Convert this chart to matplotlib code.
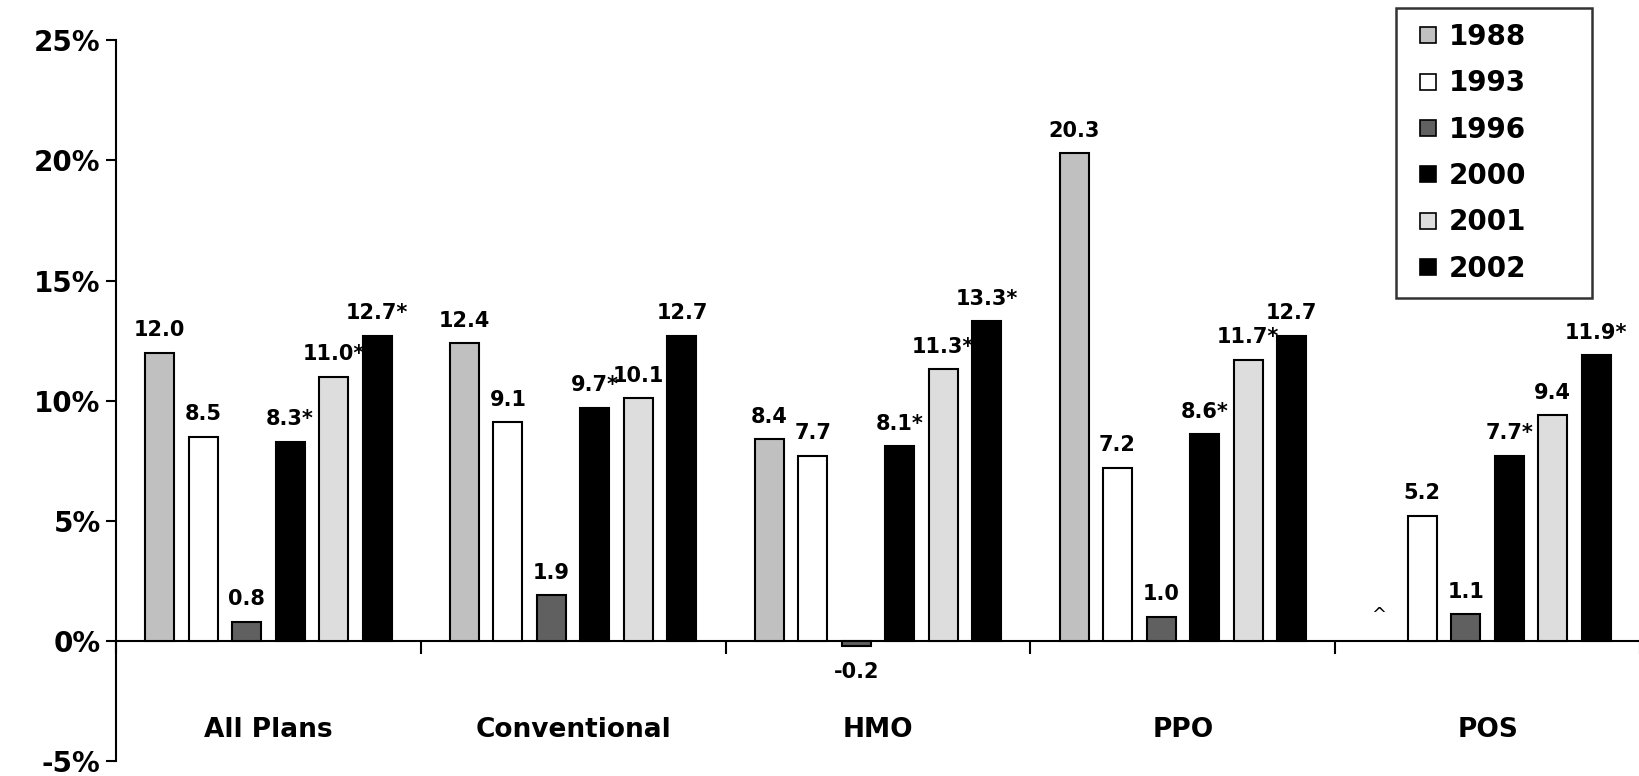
import matplotlib.pyplot as plt
from matplotlib.lines import Line2D
import numpy as np

plt.rcParams['font.family'] = ['DejaVu Sans']
plt.rcParams['font.weight'] = 'bold'

categories = ['All Plans', 'Conventional', 'HMO', 'PPO', 'POS']
years = ['1988', '1993', '1996', '2000', '2001', '2002']
colors = ['#c0c0c0', '#ffffff', '#606060', '#000000', '#dddddd', '#000000']

v1988 = [12.0, 12.4, 8.4, 20.3, np.nan]
v1993 = [8.5, 9.1, 7.7, 7.2, 5.2]
v1996 = [0.8, 1.9, -0.2, 1.0, 1.1]
v2000 = [8.3, 9.7, 8.1, 8.6, 7.7]
v2001 = [11.0, 10.1, 11.3, 11.7, 9.4]
v2002 = [12.7, 12.7, 13.3, 12.7, 11.9]

l1988 = ['12.0', '12.4', '8.4', '20.3', '^']
l1993 = ['8.5', '9.1', '7.7', '7.2', '5.2']
l1996 = ['0.8', '1.9', '-0.2', '1.0', '1.1']
l2000 = ['8.3*', '9.7*', '8.1*', '8.6*', '7.7*']
l2001 = ['11.0*', '10.1', '11.3*', '11.7*', '9.4']
l2002 = ['12.7*', '12.7', '13.3*', '12.7', '11.9*']

series = [v1988, v1993, v1996, v2000, v2001, v2002]
labels = [l1988, l1993, l1996, l2000, l2001, l2002]

fig = plt.figure(figsize=(16.4, 7.76), dpi=100)
ax = fig.add_axes([0.0707, 0.0193, 0.9293, 0.9287])

x = np.arange(len(categories)) + 0.5
pitch = 0.1427
width = 0.095

for i, (vals, labs) in enumerate(zip(series, labels)):
    xs = x + (i - 2.5) * pitch
    ax.bar(xs, vals, width=width, color=colors[i], edgecolor='black', linewidth=1.5, zorder=3)
    for xi, v, lab in zip(xs, vals, labs):
        if np.isnan(v):
            ax.text(xi, 0.7, lab, ha='center', va='bottom', fontsize=13, fontweight='normal')
        elif v < 0:
            ax.annotate(lab, (xi, v), xytext=(0, -12), textcoords='offset points',
                        ha='center', va='top', fontsize=15, fontweight='bold')
        else:
            ax.annotate(lab, (xi, v), xytext=(0, 9), textcoords='offset points',
                        ha='center', va='bottom', fontsize=15, fontweight='bold')

for xi, c in zip(x, categories):
    ax.text(xi, -3.7, c, ha='center', va='center', fontsize=19, fontweight='bold')

ax.set_xlim(0, 5)
ax.set_ylim(-5, 25)
ax.set_yticks(range(-5, 30, 5))
ax.set_yticklabels([f'{t}%' for t in range(-5, 30, 5)], fontsize=20, fontweight='bold')
ax.set_xticks(range(0, 6))
ax.set_xticklabels([])
ax.tick_params(axis='y', direction='out', length=7, width=1.5, pad=4)
ax.tick_params(axis='x', direction='out', length=9, width=1.5)

ax.spines['top'].set_visible(False)
ax.spines['right'].set_visible(False)
ax.spines['bottom'].set_position(('data', 0))
ax.spines['bottom'].set_linewidth(1.5)
ax.spines['left'].set_linewidth(1.5)

handles = [Line2D([], [], linestyle='none', marker='s', markersize=11,
                  markerfacecolor=c, markeredgecolor='black', markeredgewidth=1.2)
           for c in colors]
leg = fig.legend(handles, years, loc='upper left', mode='expand',
                 bbox_to_anchor=(0.851, 0.629, 0.12, 0.361), bbox_transform=fig.transFigure,
                 prop={'size': 20, 'weight': 'bold'}, frameon=True, fancybox=False,
                 handlelength=1.2, handletextpad=0.15, labelspacing=0.66, borderpad=0.55,
                 borderaxespad=0)
leg.get_frame().set_edgecolor('black')
leg.get_frame().set_linewidth(1.8)

fig.savefig('out.png', dpi=100)
